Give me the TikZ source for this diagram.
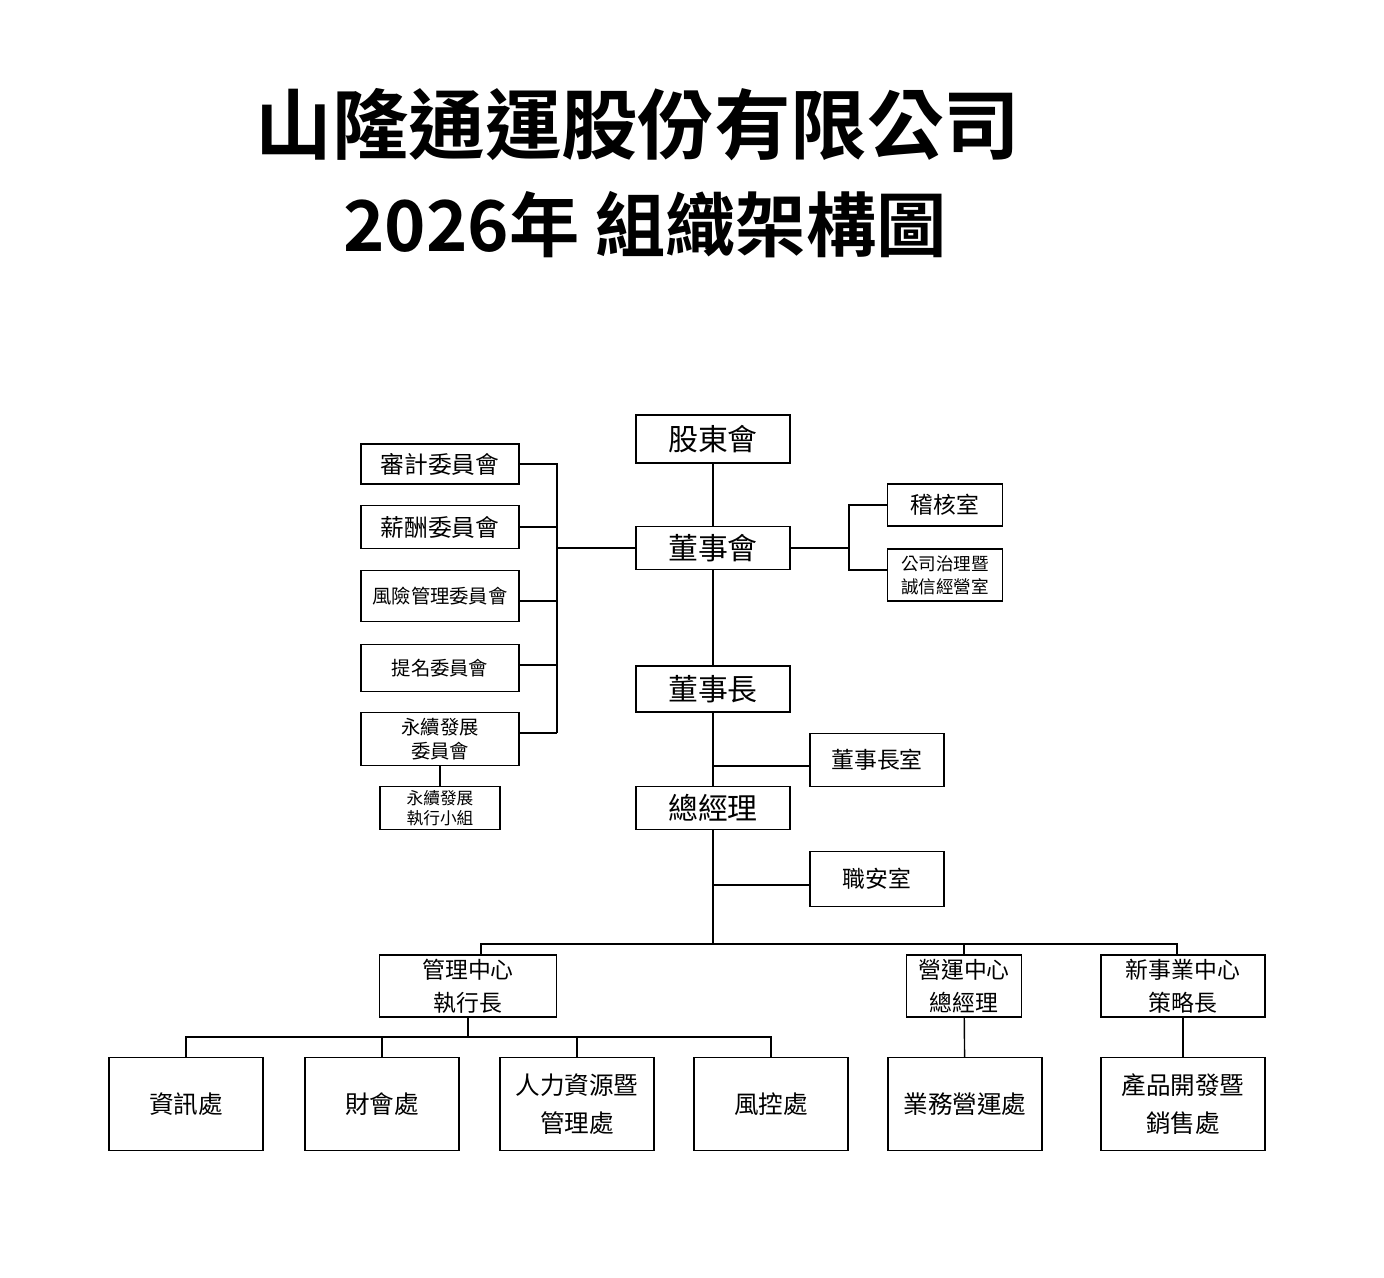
\documentclass[tikz,border=0pt]{standalone}
\usepackage{fontspec}
\setmainfont{Noto Sans CJK TC}
\newfontfamily\titlefont{Noto Sans CJK TC}[BoldFont={* Bold}]
\usepackage{tikz}

\begin{document}
\begin{tikzpicture}[x=0.02cm,y=-0.02cm,
  box/.style={draw,thick,inner sep=0pt,align=center,font=\fontsize{11}{14}\selectfont},
  big/.style={box,font=\fontsize{17}{20}\selectfont},
  unit/.style={box,minimum width=3.08cm,minimum height=1.86cm,font=\fontsize{14}{22}\selectfont},
  link/.style={thick,black}]
\useasboundingbox (0,0) rectangle (1384,1278);

% title
\node (title1) at (638,125) {\titlefont\bfseries\fontsize{43.5}{46}\selectfont 山隆通運股份有限公司};
\node (title2) at (645,225) {\titlefont\bfseries\fontsize{40}{44}\selectfont 2026年 組織架構圖};

\begin{scope}[every node/.style={box}]
\node[big,minimum width=3.08cm,minimum height=0.96cm] (gdh) at (713,439) {股東會};
\node[big,minimum width=3.08cm,minimum height=0.86cm] (dsh) at (713,548) {董事會};
\node[big,minimum width=3.08cm,minimum height=0.92cm] (dsz) at (713,689) {董事長};
\node[big,minimum width=3.08cm,minimum height=0.86cm] (zjl) at (713,808) {總經理};

\node[minimum width=2.68cm,minimum height=1.06cm,font=\fontsize{13}{15}\selectfont] (dszs) at (877,760) {董事長室};
\node[minimum width=2.68cm,minimum height=1.1cm,font=\fontsize{13}{15}\selectfont] (zas) at (877,879) {職安室};
\node[minimum width=2.3cm,minimum height=0.84cm,font=\fontsize{13}{15}\selectfont] (jhs) at (945,505) {稽核室};
\node[minimum width=2.3cm,minimum height=1.04cm,font=\fontsize{10}{13}\selectfont] (gszl) at (945,575) {公司治理暨\\誠信經營室};

\node[minimum width=3.16cm,minimum height=0.8cm,font=\fontsize{13.5}{16}\selectfont] (sj) at (440,464) {審計委員會};
\node[minimum width=3.16cm,minimum height=0.86cm,font=\fontsize{13.5}{16}\selectfont] (xc) at (440,527) {薪酬委員會};
\node[minimum width=3.16cm,minimum height=1.02cm] (fx) at (440,596) {風險管理委員會};
\node[minimum width=3.16cm,minimum height=0.94cm] (tm) at (440,668) {提名委員會};
\node[minimum width=3.16cm,minimum height=1.06cm] (yx) at (440,739) {永續發展\\委員會};
\node[minimum width=2.4cm,minimum height=0.86cm,font=\fontsize{9.5}{11.5}\selectfont] (yxz) at (440,808) {永續發展\\執行小組};

\node[minimum width=3.54cm,minimum height=1.24cm,font=\fontsize{13}{19}\selectfont] (glzx) at (468,986) {管理中心\\執行長};
\node[minimum width=2.3cm,minimum height=1.24cm,font=\fontsize{13}{19}\selectfont] (yyzx) at (964,986) {營運中心\\總經理};
\node[minimum width=3.28cm,minimum height=1.24cm,font=\fontsize{13}{19}\selectfont] (xsy) at (1183,986) {新事業中心\\策略長};

\node[unit] (zx) at (186,1104) {資訊處};
\node[unit] (ch) at (382,1104) {財會處};
\node[unit] (rl) at (577,1104) {人力資源暨\\管理處};
\node[unit] (fk) at (771,1104) {風控處};
\node[unit] (yw) at (965,1104) {業務營運處};
\node[unit,minimum width=3.28cm] (cp) at (1183,1104) {產品開發暨\\銷售處};
\end{scope}

% main line
\draw[link] (gdh) -- (dsh);
\draw[link] (dsh) -- (dsz);
\draw[link] (dsz) -- (zjl);
\draw[link] (zjl.south) -- (713,944);
\draw[link] (713,766) -- (dszs.west |- 0,766);
\draw[link] (713,885) -- (zas.west |- 0,885);

% committees
\draw[link] (dsh.west) -- (557,548);
\draw[link] (sj.east) -- (557,464) -- (557,733);
\draw[link] (xc.east) -- (557,527);
\draw[link] (519,601) -- (557,601);
\draw[link] (519,665) -- (557,665);
\draw[link] (519,733) -- (557,733);
\draw[link] (yx) -- (yxz);

% audit
\draw[link] (dsh.east) -- (849,548);
\draw[link] (jhs.west) -- (849,505) -- (849,570) -- (gszl.west |- 0,570);

% centers
\draw[link] (481,955) -- (481,944) -- (1177,944) -- (1177,955);
\draw[link] (964,944) -- (yyzx.north);
\draw[link] (glzx.south) -- (468,1037);
\draw[link] (zx.north) -- (186,1037) -- (771,1037) -- (fk.north);
\draw[link] (ch.north) -- (382,1037);
\draw[link] (rl.north) -- (577,1037);
\draw[link] (yyzx) -- (yw);
\draw[link] (xsy) -- (cp);
\end{tikzpicture}
\end{document}
